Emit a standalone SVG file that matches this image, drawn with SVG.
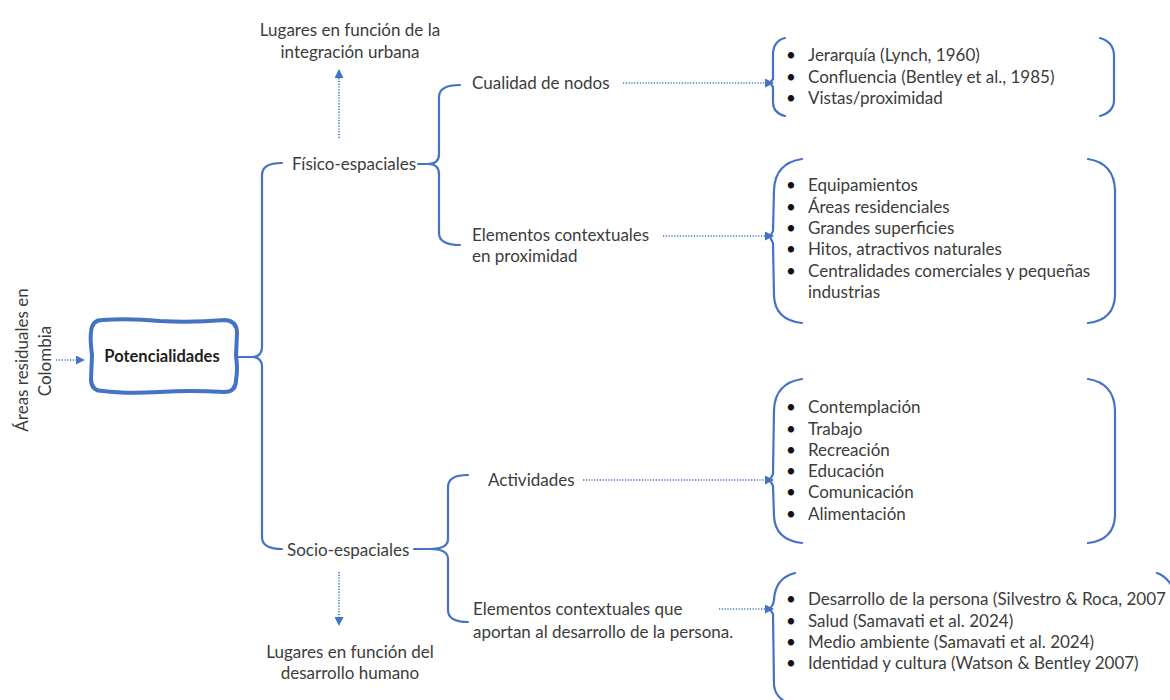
<svg xmlns="http://www.w3.org/2000/svg" width="1170" height="700" viewBox="0 0 1170 700">
<style>
text{font-family:"Lato","Noto Sans","Liberation Sans",sans-serif;font-size:17px;fill:#3c3c3c}
.b{font-weight:bold;font-size:16.5px;fill:#1e1e1e}
.m{text-anchor:middle}
.br{fill:none;stroke:#4472C4;stroke-width:2.2;stroke-linecap:round;stroke-linejoin:round}
.dot{fill:none;stroke:#4472C4;stroke-width:1.6;stroke-dasharray:1.2 1.6}
.bul{fill:#111}
</style>
<defs>
<marker id="ah" markerUnits="userSpaceOnUse" markerWidth="9" markerHeight="9" refX="8" refY="4.5" orient="auto">
<path d="M0,0 L9,4.5 L0,9 z" fill="#4472C4"/>
</marker>
</defs>
<rect width="1170" height="700" fill="#fff"/>

<g id="origen">
<text class="m" transform="translate(28,360) rotate(-90)">Áreas residuales en</text>
<text class="m" transform="translate(51,361) rotate(-90)">Colombia</text>
</g>

<g id="potencialidades">
<path d="M102,320 Q130,318 160,321 Q190,323 225,320 Q237,321 237,333 L236,356 Q238,370 236,380 Q236,392 224,392 Q190,390 160,392 Q125,394 103,391 Q91,391 91,379 L92,355 Q90,340 91,332 Q92,320 102,320 Z" fill="#fff" stroke="#4472C4" stroke-width="4"/>
<text class="b m" x="162" y="362">Potencialidades</text>
</g>

<g id="fisico">
<text x="292" y="170">Físico-espaciales</text>
</g>
<g id="socio">
<text x="287" y="556">Socio-espaciales</text>
</g>
<g id="lugares-integracion">
<text class="m" x="350" y="36">Lugares en función de la</text>
<text class="m" x="350" y="58">integración urbana</text>
</g>
<g id="lugares-desarrollo">
<text class="m" x="350" y="658">Lugares en función del</text>
<text class="m" x="350" y="679">desarrollo humano</text>
</g>
<g id="cualidad">
<text x="472" y="89">Cualidad de nodos</text>
</g>
<g id="elementos-proximidad">
<text x="472" y="241">Elementos contextuales</text>
<text x="472" y="262">en proximidad</text>
</g>
<g id="actividades">
<text x="488" y="486">Actividades</text>
</g>
<g id="elementos-persona">
<text x="473" y="615">Elementos contextuales que</text>
<text x="473" y="638">aportan al desarrollo de la persona.</text>
</g>

<g id="lista-nodos">
<text class="bul" x="786" y="61">•</text><text x="808" y="61">Jerarquía (Lynch, 1960)</text>
<text class="bul" x="786" y="83">•</text><text x="808" y="83">Confluencia (Bentley et al., 1985)</text>
<text class="bul" x="786" y="104">•</text><text x="808" y="104">Vistas/proximidad</text>
</g>
<g id="lista-proximidad">
<text class="bul" x="786" y="191">•</text><text x="808" y="191">Equipamientos</text>
<text class="bul" x="786" y="213">•</text><text x="808" y="213">Áreas residenciales</text>
<text class="bul" x="786" y="234">•</text><text x="808" y="234">Grandes superficies</text>
<text class="bul" x="786" y="255">•</text><text x="808" y="255">Hitos, atractivos naturales</text>
<text class="bul" x="786" y="277">•</text><text x="808" y="277">Centralidades comerciales y pequeñas</text>
<text x="808" y="298">industrias</text>
</g>
<g id="lista-actividades">
<text class="bul" x="786" y="413">•</text><text x="808" y="413">Contemplación</text>
<text class="bul" x="786" y="435">•</text><text x="808" y="435">Trabajo</text>
<text class="bul" x="786" y="456">•</text><text x="808" y="456">Recreación</text>
<text class="bul" x="786" y="477">•</text><text x="808" y="477">Educación</text>
<text class="bul" x="786" y="498">•</text><text x="808" y="498">Comunicación</text>
<text class="bul" x="786" y="520">•</text><text x="808" y="520">Alimentación</text>
</g>
<g id="lista-persona">
<text class="bul" x="786" y="605">•</text><text x="808" y="605">Desarrollo de la persona (Silvestro &amp; Roca, 2007</text>
<text class="bul" x="786" y="627">•</text><text x="808" y="627">Salud (Samavati et al. 2024)</text>
<text class="bul" x="786" y="648">•</text><text x="808" y="648">Medio ambiente (Samavati et al. 2024)</text>
<text class="bul" x="786" y="669">•</text><text x="808" y="669">Identidad y cultura (Watson &amp; Bentley 2007)</text>
</g>

<g id="conectores">
<path class="dot" d="M56,360 L84,360" marker-end="url(#ah)"/>
<path class="br" d="M237,357 L252,357"/>
<path class="br" d="M282,163 Q262,163 262,175 L262,347 Q262,357 252,357 Q262,357 262,367 L262,537 Q262,549 282,549"/>
<path class="br" d="M418,164 L428,164"/>
<path class="br" d="M460,85 Q439,85 439,97 L439,154 Q439,164 428,164 Q439,164 439,174 L439,233 Q439,245 460,245"/>
<path class="br" d="M414,549 L430,549"/>
<path class="br" d="M468,475 Q448,475 448,487 L448,539 Q448,549 430,549 Q448,549 448,559 L448,610 Q448,622 468,622"/>
<path class="dot" d="M339,138 L339,70" marker-end="url(#ah)"/>
<path class="dot" d="M339,572 L339,625" marker-end="url(#ah)"/>
<path class="dot" d="M623,83 L773,83" marker-end="url(#ah)"/>
<path class="dot" d="M663,236 L773,236" marker-end="url(#ah)"/>
<path class="dot" d="M583,480 L773,480" marker-end="url(#ah)"/>
<path class="dot" d="M719,609 L773,609" marker-end="url(#ah)"/>
<path class="br" d="M785,38 Q773,41 773,55 L773,79 L770,83 L773,87 L773,102 Q773,113 785,116"/>
<path class="br" d="M1100,38 Q1114,42 1114,56 L1114,100 Q1114,112 1100,116"/>
<path class="br" d="M802,159 Q775,163 774,190 L773,231 L770,237 L773,243 L774,296 Q775,320 802,323"/>
<path class="br" d="M1088,159 Q1114,163 1115,190 L1115,296 Q1114,320 1088,323"/>
<path class="br" d="M802,379 Q775,383 774,410 L773,474 L770,480 L773,486 L774,516 Q775,540 802,543"/>
<path class="br" d="M1088,379 Q1114,383 1115,410 L1115,516 Q1114,540 1088,543"/>
<path class="br" d="M795,573 Q775,578 774,600 L773,604 L770,609 L773,614 L774,685 Q775,698 790,704"/>
<path class="br" d="M1157,573 Q1168,577 1174,590"/>
</g>
</svg>
